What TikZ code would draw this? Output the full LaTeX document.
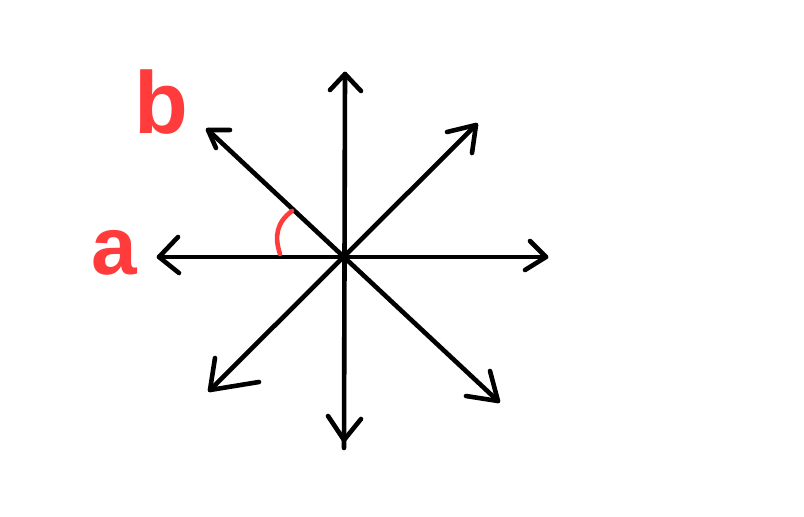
\documentclass[tikz,border=0pt]{standalone}
\usepackage{fontspec}
\setmainfont{Liberation Sans}
\definecolor{pen}{HTML}{FF3B3B}
\begin{document}
\begin{tikzpicture}[x=1pt,y=-1pt,
  axis/.style={line width=4.6pt,line cap=round,line join=round,black},
  redpen/.style={line width=4.6pt,line cap=round,pen},
  lbl/.style={text=pen,inner sep=0pt,anchor=base,font=\bfseries}]
\useasboundingbox[fill=white] (0,0) rectangle (804,517);
\coordinate (O) at (344,257);
% tips
\coordinate (U) at (345,74);
\coordinate (D) at (344,440);
\coordinate (Dend) at (344,448);
\coordinate (L) at (159,257);
\coordinate (R) at (546,257);
\coordinate (UL) at (208,130);
\coordinate (UR) at (476,125);
\coordinate (DL) at (210,390);
\coordinate (DR) at (498,401);
% shafts
\draw[axis] (U) -- (Dend);
\draw[axis] (L) -- (R);
\draw[axis] (UL) -- (DR);
\draw[axis] (UR) -- (DL);
% heads
\draw[axis] (330,90) -- (U) -- (361,91);
\draw[axis] (328,416) -- (D) -- (361,419);
\draw[axis] (178,237) -- (L) -- (179,273);
\draw[axis] (530,241) -- (R) -- (525,270);
\draw[axis] (230,130) -- (UL) -- (216,148);
\draw[axis] (447,132) -- (UR) -- (472,153);
\draw[axis] (215,358) -- (DL) -- (259,382);
\draw[axis] (490,371) -- (DR) -- (466,396);
% angle mark
\coordinate (A1) at (280,254);
\coordinate (A2) at (292,211);
\draw[redpen] (A1) .. controls (274,236) and (277,222) .. (A2);
% labels
\node[lbl,font=\bfseries\fontsize{82}{82}\selectfont] (a) at (114,274) {a};
\node[lbl,font=\bfseries\fontsize{88}{88}\selectfont] (b) at (161,133) {b};
\end{tikzpicture}
\end{document}
